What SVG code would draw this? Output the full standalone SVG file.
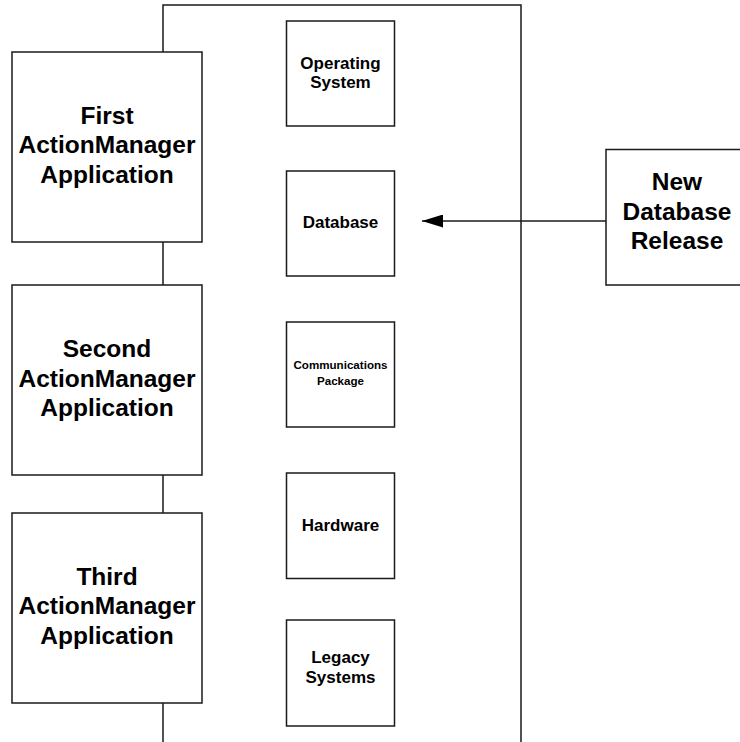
<svg xmlns="http://www.w3.org/2000/svg" width="740" height="742" viewBox="0 0 740 742">
  <style>
    .box { fill: #ffffff; stroke: #1a1a1a; stroke-width: 1.5; }
    .frame { fill: none; stroke: #1a1a1a; stroke-width: 1.5; }
    .conn { fill: none; stroke: #1a1a1a; stroke-width: 1.5; }
    text { font-family: "Liberation Sans", Arial, sans-serif; font-weight: bold; fill: #000000; text-anchor: middle; }
    .big { font-size: 24.5px; }
    .mid { font-size: 17px; }
    .small { font-size: 11.6px; }
  </style>
  <defs>
    <marker id="arrowhead" viewBox="0 0 21 13" refX="21" refY="6.5" markerWidth="21" markerHeight="13" markerUnits="userSpaceOnUse" orient="auto">
      <path d="M0,0 L21,6.5 L0,13 Z" fill="#000000"/>
    </marker>
  </defs>

  <!-- enclosing platform frame, open at the bottom -->
  <g id="platform">
    <path class="frame" d="M163,742 L163,5 L521,5 L521,742"/>
  </g>

  <!-- applications sitting on the platform edge -->
  <g id="app1">
    <rect class="box" x="12" y="52" width="190" height="190"/>
    <text class="big" x="107" y="123.5">First</text>
    <text class="big" x="107" y="153">ActionManager</text>
    <text class="big" x="107" y="182.5">Application</text>
  </g>
  <g id="app2">
    <rect class="box" x="12" y="285" width="190" height="190"/>
    <text class="big" x="107" y="357">Second</text>
    <text class="big" x="107" y="386.5">ActionManager</text>
    <text class="big" x="107" y="416">Application</text>
  </g>
  <g id="app3">
    <rect class="box" x="12" y="513" width="190" height="190"/>
    <text class="big" x="107" y="584.5">Third</text>
    <text class="big" x="107" y="614">ActionManager</text>
    <text class="big" x="107" y="643.5">Application</text>
  </g>

  <!-- platform components -->
  <g id="os">
    <rect class="box" x="286.5" y="21" width="108" height="105"/>
    <text class="mid" x="340.5" y="68.5">Operating</text>
    <text class="mid" x="340.5" y="87.5">System</text>
  </g>
  <g id="database">
    <rect class="box" x="286.5" y="171" width="108" height="105"/>
    <text class="mid" x="340.5" y="228">Database</text>
  </g>
  <g id="comms">
    <rect class="box" x="286.5" y="322" width="108" height="105"/>
    <text class="small" x="340.5" y="368.5">Communications</text>
    <text class="small" x="340.5" y="384.5">Package</text>
  </g>
  <g id="hardware">
    <rect class="box" x="286.5" y="473" width="108" height="105.5"/>
    <text class="mid" x="340.5" y="531">Hardware</text>
  </g>
  <g id="legacy">
    <rect class="box" x="286.5" y="620" width="108" height="106"/>
    <text class="mid" x="340.5" y="662.5">Legacy</text>
    <text class="mid" x="340.5" y="682.5">Systems</text>
  </g>

  <!-- external release -->
  <g id="release">
    <rect class="box" x="606" y="149.5" width="142" height="135.5"/>
    <text class="big" x="677" y="189.5">New</text>
    <text class="big" x="677" y="219.5">Database</text>
    <text class="big" x="677" y="248.5">Release</text>
  </g>

  <g id="connectors">
    <line class="conn" x1="606" y1="221" x2="422" y2="221" marker-end="url(#arrowhead)"/>
  </g>
</svg>
